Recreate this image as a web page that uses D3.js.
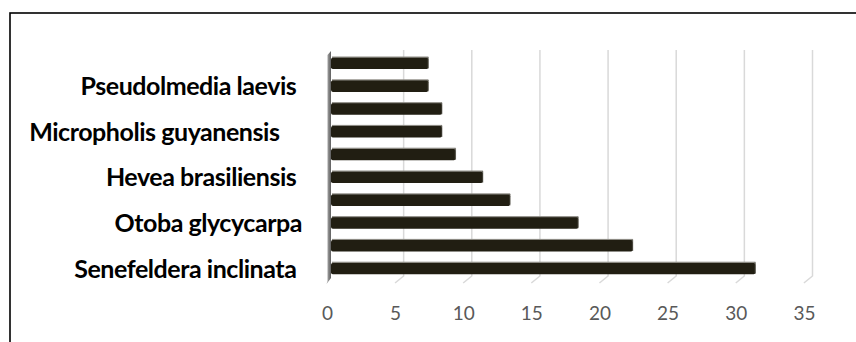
<!DOCTYPE html>
<html>
<head>
<meta charset="utf-8">
<script src="https://cdn.jsdelivr.net/npm/d3@7"></script>
<style>
  html, body { margin: 0; padding: 0; background: #fff; }
  svg { display: block; }
  .cat { white-space: pre; }
</style>
</head>
<body>
<svg id="chart" width="856" height="342"></svg>
<script>
// Species, bottom to top; only every other species gets a visible label.
const categories = [
  "Senefeldera inclinata ", "", "Otoba glycycarpa", "", "Hevea brasiliensis ",
  "", "Micropholis guyanensis    ", "", "Pseudolmedia laevis ", ""
];
const values = [31, 22, 18, 13, 11, 9, 8, 8, 7, 7];
const xTicks = [0, 5, 10, 15, 20, 25, 30, 35];

const svg = d3.select("#chart");
const W = 856, H = 342;

// 3D depth offset of the plot floor (back plane -> front plane)
const depthX = -8.6, depthY = 7;

const x = d3.scaleLinear().domain([0, 35]).range([335.5, 812.5]);
const idx = d3.range(values.length);
const y = d3.scaleBand()
  .domain(idx.slice().reverse())
  .range([52, 280])
  .paddingInner(0.5)
  .paddingOuter(0.25);

const gridTop = 50, gridBottom = 276;

// outer chart border
svg.append("rect")
  .attr("x", 10).attr("y", 13)
  .attr("width", W + 20).attr("height", H + 20)
  .attr("fill", "none").attr("stroke", "#000").attr("stroke-width", 1.6);

// gridlines: vertical on the back wall, bending forward along the floor
const grid = svg.append("g").attr("fill", "none")
  .attr("stroke", "#d9d9d9").attr("stroke-width", 1.5);
xTicks.filter(t => t > 0).forEach(t => {
  const gx = x(t);
  grid.append("path")
    .attr("d", d3.line()([[gx, gridTop], [gx, gridBottom], [gx + depthX, gridBottom + depthY]]));
});

// left side wall
const defs = svg.append("defs");
const wg = defs.append("linearGradient").attr("id", "wall").attr("x1", 0).attr("x2", 1);
wg.append("stop").attr("offset", 0).attr("stop-color", "#b4b4b4");
wg.append("stop").attr("offset", 0.45).attr("stop-color", "#8c8c8c");
wg.append("stop").attr("offset", 1).attr("stop-color", "#5e5e5e");
const wx = x(0) - 4.5;
svg.append("path")
  .attr("d", d3.line()([[wx - 3.5, gridTop + 5], [wx, gridTop + 1], [wx, gridBottom + 2],
                        [wx - 4.5, gridBottom + 8], [wx - 3.5, gridBottom + 5]]) + "Z")
  .attr("fill", "url(#wall)");

// bars
const bars = svg.append("g");
idx.forEach(i => {
  const y0 = y(i), bw = y.bandwidth();
  const x0 = x(0) - 4.5, x1 = x(values[i]) - 2.5;
  // top face
  bars.append("rect")
    .attr("x", x0 + 1).attr("y", y0 - 1.2)
    .attr("width", x1 - x0 - 1).attr("height", 2)
    .attr("fill", "#8d8b84");
  // front face
  bars.append("rect")
    .attr("x", x0).attr("y", y0)
    .attr("width", x1 - x0).attr("height", bw)
    .attr("rx", 1.8)
    .attr("fill", "#211e12");
  // right end highlight
  bars.append("rect")
    .attr("x", x1 - 1).attr("y", y0 - 0.5)
    .attr("width", 1.4).attr("height", bw)
    .attr("fill", "#4a473d").attr("opacity", 0.6);
});

// category labels
svg.append("g").selectAll("text")
  .data(idx.filter(i => categories[i] !== ""))
  .join("text")
  .attr("class", "cat")
  .attr("x", 302)
  .attr("y", i => y(i) + y.bandwidth() / 2)
  .attr("dy", "0.36em")
  .attr("text-anchor", "end")
  .attr("font-family", "Lato, 'Open Sans', sans-serif")
  .attr("font-weight", 700)
  .attr("font-size", 25)
  .attr("letter-spacing", -0.45)
  .attr("fill", "#000")
  .text(i => categories[i]);

// value axis labels along the front edge of the floor
const axis = d3.axisBottom(x).tickValues(xTicks).tickSize(0).tickPadding(0);
const ag = svg.append("g")
  .attr("transform", `translate(${depthX},${gridBottom + depthY + 23})`)
  .call(axis);
ag.select(".domain").remove();
ag.selectAll("text")
  .attr("font-family", "Lato, 'Open Sans', sans-serif")
  .attr("font-size", 19)
  .attr("fill", "#595959");
</script>
</body>
</html>
